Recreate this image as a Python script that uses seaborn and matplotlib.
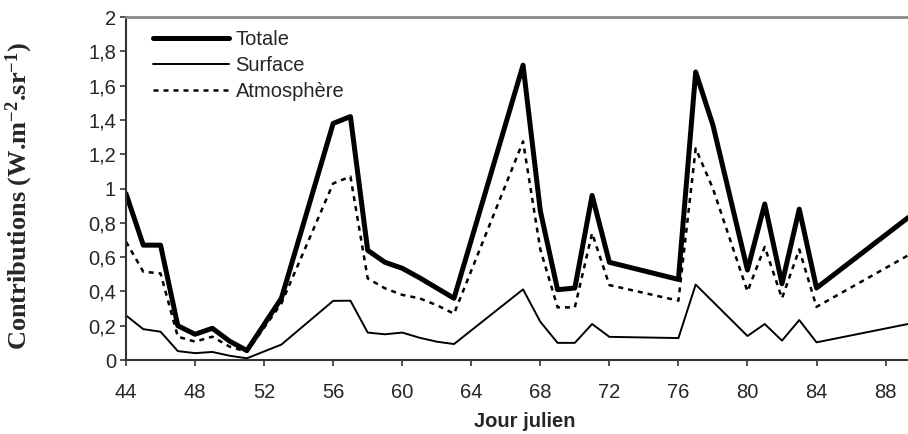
import matplotlib
matplotlib.use("Agg")
import matplotlib.pyplot as plt
import seaborn as sns
import pandas as pd
from matplotlib.ticker import FuncFormatter

# Data
jours = [44, 45, 46, 47, 48, 49, 50, 51, 53, 56, 57, 58, 59, 60, 61, 62, 63,
         67, 68, 69, 70, 71, 72, 76, 77, 78, 80, 81, 82, 83, 84, 89.3]
totale = [0.97, 0.67, 0.67, 0.20, 0.15, 0.185, 0.11, 0.055, 0.36, 1.38, 1.42, 0.64,
          0.57, 0.535, 0.48, 0.42, 0.36, 1.72, 0.87, 0.41, 0.42, 0.96, 0.57,
          0.47, 1.68, 1.37, 0.525, 0.91, 0.445, 0.88, 0.42, 0.83]
surface = [0.26, 0.18, 0.165, 0.052, 0.04, 0.047, 0.025, 0.01, 0.09, 0.345, 0.346, 0.16,
           0.15, 0.16, 0.13, 0.107, 0.093, 0.412, 0.223, 0.10, 0.10, 0.21, 0.135,
           0.128, 0.44, 0.34, 0.14, 0.21, 0.113, 0.233, 0.103, 0.21]
atmosphere = [0.69, 0.515, 0.505, 0.136, 0.107, 0.136, 0.078, 0.048, 0.33, 1.03, 1.07, 0.476,
              0.418, 0.38, 0.36, 0.32, 0.27, 1.275, 0.645, 0.307, 0.307, 0.74, 0.437,
              0.346, 1.234, 1.0, 0.40, 0.66, 0.36, 0.645, 0.31, 0.61]

series_names = ["Totale", "Surface", "Atmosphère"]
x_ticks = list(range(44, 89, 4))
y_ticks = [0, 0.2, 0.4, 0.6, 0.8, 1.0, 1.2, 1.4, 1.6, 1.8, 2.0]

df = pd.DataFrame({"jour": jours, "Totale": totale, "Surface": surface,
                   "Atmosphère": atmosphere})

sns.set_style("white")
plt.rcParams["font.family"] = ["Liberation Sans", "DejaVu Sans"]
plt.rcParams["mathtext.default"] = "regular"

fig = plt.figure(figsize=(9.08, 4.34), dpi=100)
ax = fig.add_axes([0.1388, 0.1705, 0.8612, 0.790])

styles = {
    "Totale": dict(lw=3.6, ls="-"),
    "Surface": dict(lw=1.4, ls="-"),
    "Atmosphère": dict(lw=1.8, ls=(0, (2.0, 2.0))),
}
for name in series_names:
    sns.lineplot(data=df, x="jour", y=name, ax=ax, color="black",
                 linewidth=styles[name]["lw"], linestyle=styles[name]["ls"],
                 label=name, clip_on=True)

ax.set_xlim(44, 89.3)
ax.set_ylim(0, 2)
ax.set_xticks(x_ticks)
ax.set_yticks(y_ticks)

def fmt(v, pos):
    s = f"{v:.1f}".rstrip("0").rstrip(".")
    return s.replace(".", ",")
ax.yaxis.set_major_formatter(FuncFormatter(fmt))

ax.tick_params(axis="both", which="major", direction="out", length=4.3, width=1.2,
               color="#333333", labelsize=14.5, left=True, bottom=True)
ax.tick_params(axis="y", pad=3)
ax.tick_params(axis="x", pad=12)

for side in ["left", "bottom"]:
    ax.spines[side].set_color("#333333")
    ax.spines[side].set_linewidth(1.5)
ax.spines["top"].set_color("#8a8a8a")
ax.spines["top"].set_linewidth(2)
ax.spines["right"].set_visible(False)

ax.set_xlabel("Jour julien", fontsize=14.5, fontweight="bold")
ax.xaxis.set_label_coords(0.51, -0.152)
ax.set_ylabel(r"Contributions (W.m$^{-2}$.sr$^{-1}$)", fontsize=19,
              fontweight="bold", family=["Liberation Serif", "DejaVu Serif"])
ax.yaxis.set_label_coords(-0.116, 0.478)

leg = ax.legend(loc="upper left", bbox_to_anchor=(0.019, 0.997), frameon=False,
                fontsize=14.5, handlelength=3.8, handletextpad=0.3,
                labelspacing=0.35, borderaxespad=0.2)

fig.savefig("out.png", dpi=100)
